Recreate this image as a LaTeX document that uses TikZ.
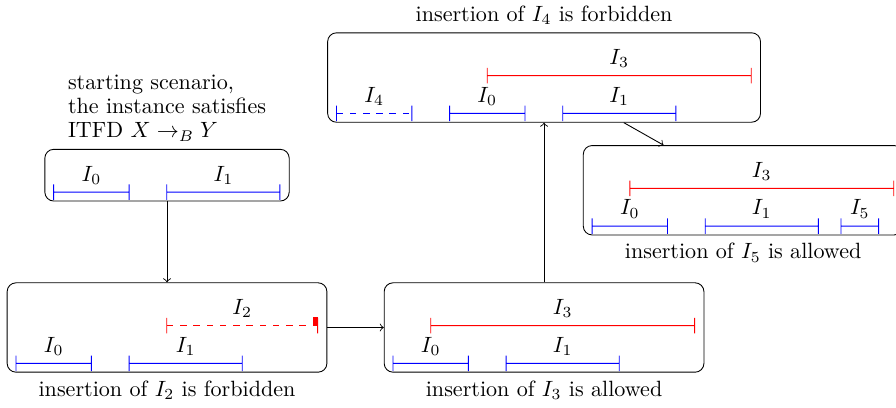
\documentclass[tikz,border=0pt]{standalone}
\usetikzlibrary{calc,fit,positioning}
\begin{document}
\begin{tikzpicture}[
    x=0.6cm, y=0.6cm,
    iv ends/.style={to path={
        ($(\tikztostart)+(-0.2pt,-3.5pt)$) rectangle ($(\tikztostart)+(0.2pt,3.5pt)$)
        ($(\tikztotarget)+(-0.2pt,-3.5pt)$) rectangle ($(\tikztotarget)+(0.2pt,3.5pt)$)
    }},
    iv/.style={to path={
        ($(\tikztostart)+(-0.2pt,-3.5pt)$) rectangle ($(\tikztostart)+(0.2pt,3.5pt)$)
        ($(\tikztostart)+(0,-0.2pt)$) rectangle ($(\tikztotarget)+(0,0.2pt)$)
        ($(\tikztotarget)+(-0.2pt,-3.5pt)$) rectangle ($(\tikztotarget)+(0.2pt,3.5pt)$)
    }},
    iv base/.style={fill=blue},
    iv added/.style={fill=red},
    iv label/.style={above},
    scenario/.style={
        draw,
        rounded corners,
        inner sep=4pt
    },
    caption/.style={align=center},
    step arrow/.style={->}
]
    \useasboundingbox (-0.424,-1.159) rectangle (23.34,9.637);

    % I_0 und I_1 stehen in jedem Szenario
    \foreach \sc/\dx/\dy in {a/1/4.54,b/0/0,c/10/0,d/11.5/6.63,e/15.28/3.64} {
        \begin{scope}[shift={(\dx,\dy)}]
            \fill[iv base] (0,0) coordinate (\sc-west) to[iv] (2,0);
            \fill[iv base] (3,0) to[iv] (6,0) coordinate (\sc-east);
            \node[iv label] (\sc0) at (1,0) {$I_0$};
            \node[iv label] (\sc1) at (4.5,0) {$I_1$};
        \end{scope}
    }

    % hinzugefuegte Intervalle (gestrichelt = verboten)
    \begin{scope}[shift={(0,0)}]
        \fill[iv added] (4,1) coordinate (b2-west) to[iv ends] (8,1) coordinate (b2-east);
        \foreach \k in {0,...,10}
            \fill[iv added] ($(b2-west)+(\k*6pt,-0.2pt)$) rectangle +(3pt,0.4pt);
        \fill[iv added] ($(b2-west)+(66pt,-0.2pt)$) rectangle ($(b2-east)+(0,0.2pt)$);
        \node[iv label] (b2) at (6,1) {$I_2$};
    \end{scope}
    \begin{scope}[shift={(10,0)}]
        \fill[iv added] (1,1) to[iv] (8,1) coordinate (c3-east);
        \node[iv label] (c3) at (4.5,1) {$I_3$};
    \end{scope}
    \begin{scope}[shift={(11.5,6.63)}]
        \fill[iv added] (1,1) to[iv] (8,1) coordinate (d3-east);
        \node[iv label] (d3) at (4.5,1) {$I_3$};
        \fill[iv base] (-3,0) coordinate (d4-west) to[iv ends] (-1,0);
        \foreach \k in {0,...,5}
            \fill[iv base] ($(d4-west)+(\k*6pt,-0.2pt)$) rectangle +(3pt,0.4pt);
        \node[iv label] (d4) at (-2,0) {$I_4$};
    \end{scope}
    \begin{scope}[shift={(15.28,3.64)}]
        \fill[iv added] (1,1) to[iv] (8,1) coordinate (e3-east);
        \node[iv label] (e3) at (4.5,1) {$I_3$};
        \fill[iv base] (6.6,0) to[iv] (7.6,0);
        \node[iv label] (e5) at (7.1,0) {$I_5$};
    \end{scope}

    % Rahmen der Szenarien
    \node[scenario, fit=(a-west) (a-east) (a0) (a1)] (boxa) {};
    \node[scenario, fit=(b-west) (b2-east) (b0) (b1) (b2)] (boxb) {};
    \node[scenario, fit=(c-west) (c3-east) (c0) (c1) (c3)] (boxc) {};
    \node[scenario, fit=(d4-west) (d3-east) (d4) (d0) (d3)] (boxd) {};
    \node[scenario, fit=(e-west) (e3-east) (e0) (e5) (e3)] (boxe) {};

    \node[caption, align=left, above=0pt of boxa] (capa)
        {starting scenario,\\[-1pt]the instance satisfies\\[-1pt]ITFD $X \to_B Y$};
    \node[caption, below=0pt of boxb] (capb)
        {insertion of $I_2$ is forbidden};
    \node[caption, below=0pt of boxc] (capc)
        {insertion of $I_3$ is allowed};
    \node[caption, above=0pt of boxd] (capd)
        {insertion of $I_4$ is forbidden};
    \node[caption, below=0pt of boxe] (cape)
        {insertion of $I_5$ is allowed};

    \draw[step arrow] (boxa) -- (boxb);
    \draw[step arrow] (boxb) -- (boxc);
    \draw[step arrow] (boxc) -- (boxd);
    \draw[step arrow] (boxd) -- (boxe);
\end{tikzpicture}
\end{document}
